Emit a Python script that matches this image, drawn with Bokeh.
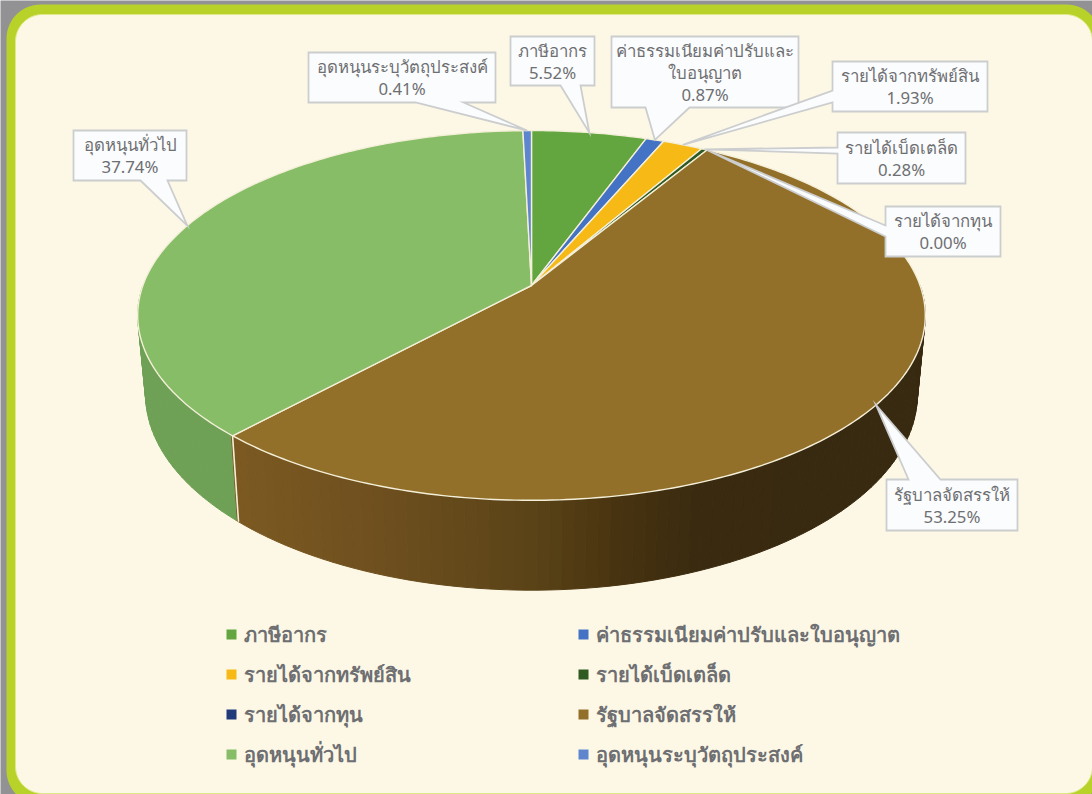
import numpy as np
from bokeh.core.properties import value
from bokeh.embed import file_html
from bokeh.models import Range1d
from bokeh.plotting import figure
from bokeh.resources import INLINE

# ---- data ----
categories = ["ภาษีอากร", "ค่าธรรมเนียมค่าปรับและใบอนุญาต", "รายได้จากทรัพย์สิน", "รายได้เบ็ดเตล็ด",
              "รายได้จากทุน", "รัฐบาลจัดสรรให้", "อุดหนุนทั่วไป", "อุดหนุนระบุวัตถุประสงค์"]
shares = [5.52, 0.87, 1.93, 0.28, 0.00, 53.25, 37.74, 0.41]
colors = ["#63a63f", "#4472c4", "#f6b916", "#2f5a22", "#1f3b7a", "#92702a", "#86bd66", "#5d86cf"]
label_lines = [["ภาษีอากร"], ["ค่าธรรมเนียมค่าปรับและ", "ใบอนุญาต"], ["รายได้จากทรัพย์สิน"], ["รายได้เบ็ดเตล็ด"],
               ["รายได้จากทุน"], ["รัฐบาลจัดสรรให้"], ["อุดหนุนทั่วไป"], ["อุดหนุนระบุวัตถุประสงค์"]]
# callout boxes: left, top, right, bottom, side of pointer, base start, base end
boxes = [(510, 36, 594, 85, "b", 560, 580), (611, 36, 798, 107, "b", 645, 689), (832, 61, 987, 111, "l", 90, 102),
         (837, 132, 965, 183, "l", 147, 153), (885, 206, 1000, 256, "l", 225, 236), (886, 479, 1017, 530, "t", 908, 940),
         (73, 130, 186, 180, "b", 140, 167), (308, 52, 495, 102, "b", 415, 463)]
legend_x = [231, 583]
legend_y = [634, 674, 714, 754]

# ---- pie geometry ----
CX, CY, A, B, K = 531.0, 285.0, 388.6, 180.0, 0.162
BOTTOM_SX, BOTTOM_SY, BOTTOM_DY = 0.98, 1.06, 77.0
GRAY, LIME, CREAM = "#929294", "#b9d22a", "#fdf8e6"
BORDER, TEXT = "#cccdce", "#6e6f72"
FONT = value("Noto Sans")


def top(pct):
    t = np.radians(np.asarray(pct, dtype=float) * 3.6)
    u, v = np.sin(t), -np.cos(t)
    f = 1 / (1 - K * v)
    return CX + A * u * f, CY + B * v * f


def bottom(pct):
    x, y = top(pct)
    return CX + (x - CX) * BOTTOM_SX, CY + (y - CY) * BOTTOM_SY + BOTTOM_DY


def rounded(x0, y0, x1, y1, r):
    xs, ys = [], []
    for cx, cy, a0 in [(x1 - r, y0 + r, -90), (x1 - r, y1 - r, 0), (x0 + r, y1 - r, 90), (x0 + r, y0 + r, 180)]:
        a = np.radians(np.linspace(a0, a0 + 90, 16))
        xs += list(cx + r * np.cos(a))
        ys += list(cy + r * np.sin(a))
    return xs, ys


p = figure(width=1092, height=794, x_range=Range1d(0, 1092), y_range=Range1d(794, 0),
           output_backend="svg", toolbar_location=None, min_border=0,
           background_fill_color=GRAY, border_fill_color=GRAY, outline_line_color=None)
p.axis.visible = False
p.grid.visible = False

# frame
xs, ys = rounded(6, 4, 1100, 804, 34)
p.patch(xs, ys, fill_color=LIME, line_color=None)
xs, ys = rounded(15, 14, 1092, 793, 27)
p.patch(xs, ys, fill_color=CREAM, line_color="#dfe98a", line_width=1)

# pie side
edges = np.concatenate([[0], np.cumsum(shares)])
edges = edges / edges[-1] * 100
split = edges[6]
stop_x = [232, 400, 530, 620, 700, 930]
stop_r = [0x7c, 0x6c, 0x5b, 0x48, 0x3a, 0x37]
stop_g = [0x5a, 0x4e, 0x44, 0x33, 0x2b, 0x2a]
stop_b = [0x22, 0x1e, 0x18, 0x10, 0x10, 0x10]
grid = np.linspace(25, 75, 120)
sx, sy, sc = [], [], []
for a0, a1 in zip(grid[:-1], grid[1:]):
    mid = (a0 + a1) / 2
    tx, ty = top([a0, a1])
    bx, by = bottom([a1, a0])
    sx.append(list(tx) + list(bx))
    sy.append(list(ty) + list(by))
    if mid >= split:
        sc.append("#6ea156")
    else:
        mx = float(top(mid)[0])
        sc.append("#%02x%02x%02x" % (int(np.interp(mx, stop_x, stop_r)), int(np.interp(mx, stop_x, stop_g)),
                                     int(np.interp(mx, stop_x, stop_b))))
p.patches(sx, sy, fill_color=sc, line_color=sc, line_width=1.0)
sep_t, sep_b = top(split), bottom(split)
p.line([sep_t[0], sep_b[0]], [sep_t[1], sep_b[1]], line_color="#f4efd8", line_width=1.6)

# pie top
wx, wy, wc = [], [], []
for a0, a1, c in zip(edges[:-1], edges[1:], colors):
    if a1 <= a0:
        continue
    x, y = top(np.linspace(a0, a1, max(4, int((a1 - a0) * 4))))
    wx.append([CX] + list(x))
    wy.append([CY] + list(y))
    wc.append(c)
p.patches(wx, wy, fill_color=wc, line_color="#f4efd8", line_width=1.4, line_join="round")

# callouts
for i, (l, t, r, b, side, s0, s1) in enumerate(boxes):
    tx, ty = top((edges[i] + edges[i + 1]) / 2)
    tx, ty = float(tx), float(ty)
    if side == "b":
        xs, ys = [l, r, r, s1, tx, s0, l], [t, t, b, b, ty, b, b]
    elif side == "t":
        xs, ys = [l, s0, tx, s1, r, r, l], [t, t, ty, t, t, b, b]
    else:
        xs, ys = [l, r, r, l, l, tx, l], [t, t, b, b, s1, ty, s0]
    p.patch(xs, ys, fill_color="#fbfcfd", line_color=BORDER, line_width=1.8, line_join="miter")
    rows = label_lines[i] + ["%.2f%%" % shares[i]]
    mid = (t + b) / 2
    for j, row in enumerate(rows):
        p.text([(l + r) / 2], [mid + (j - (len(rows) - 1) / 2) * 22], text=[row], text_font=FONT,
               text_font_size="16.8px", text_color=TEXT, text_align="center", text_baseline="middle")

# legend
for i, (name, c) in enumerate(zip(categories, colors)):
    lx, ly = legend_x[i % 2], legend_y[i // 2]
    p.scatter([lx], [ly], marker="square", size=10, fill_color=c, line_color=None)
    p.text([lx + 12], [ly], text=[name], text_font=FONT, text_font_size="20px", text_font_style="bold",
           text_color=TEXT, text_align="left", text_baseline="middle")

open("out.html", "w").write(file_html(p, INLINE))
